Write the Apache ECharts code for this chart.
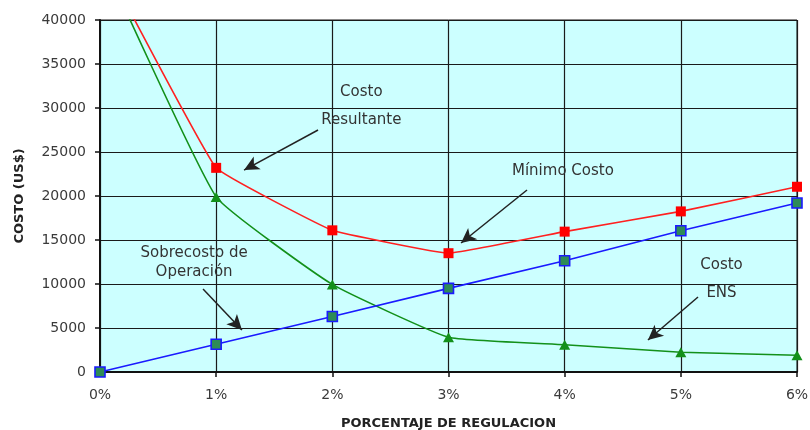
<!DOCTYPE html>
<html><head><meta charset="utf-8">
<script src="https://cdn.jsdelivr.net/npm/echarts@6/dist/echarts.min.js"></script>
<style>html,body{margin:0;padding:0;background:#fff}#c{width:810px;height:430px}</style>
</head><body><div id="c"></div>
<script>
// Data
const pct = [0, 1, 2, 3, 4, 5, 6];
const xTickLabels = ['0%', '1%', '2%', '3%', '4%', '5%', '6%'];
const costoResultante = [47500, 23200, 16100, 13500, 15950, 18250, 21050];
const costoENS = [47500, 19900, 9950, 3950, 3100, 2250, 1900];
const sobrecosto = [0, 3150, 6300, 9500, 12650, 16050, 19200];
const yMin = 0, yMax = 40000, yStep = 5000;

// Annotation texts (placed in data units)
const noteTexts = ['Costo\nResultante', 'Mínimo Costo', 'Sobrecosto de\nOperación', 'Costo\nENS'];
const noteX = [2.25, 3.985, 0.81, 5.35];
const noteY = [30230, 22840, 12390, 10570];
const noteLineH = [28, 18, 19, 28];
// Arrows (tail -> head, data units)
const arrowFrom = [[1.877, 27500], [3.676, 20680], [0.887, 9430], [5.148, 8520]];
const arrowTo = [[1.24, 22950], [3.108, 14660], [1.222, 4770], [4.717, 3640]];

const pairs = (ys) => pct.map((p, i) => [p, ys[i]]);
const font = 'DejaVu Sans';

const chart = echarts.init(document.getElementById('c'), null, {renderer: 'canvas'});
chart.setOption({
  animation: false,
  backgroundColor: '#ffffff',
  grid: {left: 100, right: 13, top: 20, bottom: 58, show: true, containLabel: false,
         outerBoundsMode: 'none',
         backgroundColor: '#ccffff', borderColor: '#111', borderWidth: 1},
  xAxis: {
    type: 'value', min: 0, max: 6, interval: 1,
    name: 'PORCENTAJE DE REGULACION', nameLocation: 'middle', nameGap: 45,
    nameTextStyle: {fontFamily: font, fontWeight: 'bold', fontSize: 13, color: '#222'},
    axisLine: {show: true, lineStyle: {color: '#111', width: 2}},
    axisTick: {show: true, length: 5, lineStyle: {color: '#111', width: 1.5}},
    axisLabel: {formatter: v => xTickLabels[v], fontFamily: font, fontSize: 14, color: '#3a3a3a', margin: 16},
    splitLine: {show: true, lineStyle: {color: '#1a1a1a', width: 1.2}}
  },
  yAxis: {
    type: 'value', min: yMin, max: yMax, interval: yStep,
    name: 'COSTO (US$)', nameLocation: 'middle', nameGap: 74, nameRotate: 90,
    nameTextStyle: {fontFamily: font, fontWeight: 'bold', fontSize: 13, color: '#222'},
    axisLine: {show: true, lineStyle: {color: '#111', width: 2}},
    axisTick: {show: true, length: 5, lineStyle: {color: '#111', width: 1.5}},
    axisLabel: {formatter: v => String(v), fontFamily: font, fontSize: 14, color: '#3a3a3a', margin: 14},
    splitLine: {show: true, lineStyle: {color: '#1a1a1a', width: 1.2}}
  },
  series: [
    {
      name: 'Costo ENS', type: 'line', data: pairs(costoENS), smooth: 0.12,
      symbol: 'triangle', symbolSize: [11, 10],
      lineStyle: {color: '#13901a', width: 1.6},
      itemStyle: {color: '#13901a'},
      z: 3
    },
    {
      name: 'Sobrecosto de Operación', type: 'line', data: pairs(sobrecosto),
      symbol: 'rect', symbolSize: 10,
      lineStyle: {color: '#1a1aff', width: 1.6},
      itemStyle: {color: '#2e8b57', borderColor: '#1a1aff', borderWidth: 1.6},
      z: 4
    },
    {
      name: 'Costo Resultante', type: 'line', data: pairs(costoResultante), smooth: 0.08,
      symbol: 'rect', symbolSize: 10,
      lineStyle: {color: '#ff2020', width: 1.6},
      itemStyle: {color: '#ff0000'},
      z: 5,
      markPoint: {
        symbol: 'circle', symbolSize: 1,
        itemStyle: {color: 'rgba(0,0,0,0)'},
        label: {show: true, position: 'inside', fontFamily: font, fontSize: 15, color: '#333', align: 'center'},
        data: noteTexts.map((t, i) => ({
          coord: [noteX[i], noteY[i]],
          label: {formatter: t, lineHeight: noteLineH[i]}
        }))
      },
      markLine: {
        silent: true,
        symbol: ['none', 'arrow'], symbolSize: [11, 15],
        label: {show: false},
        lineStyle: {color: '#222', width: 1.5, type: 'solid'},
        emphasis: {disabled: true},
        data: arrowFrom.map((f, i) => [{coord: f}, {coord: arrowTo[i]}])
      }
    }
  ]
});
</script>
</body></html>
